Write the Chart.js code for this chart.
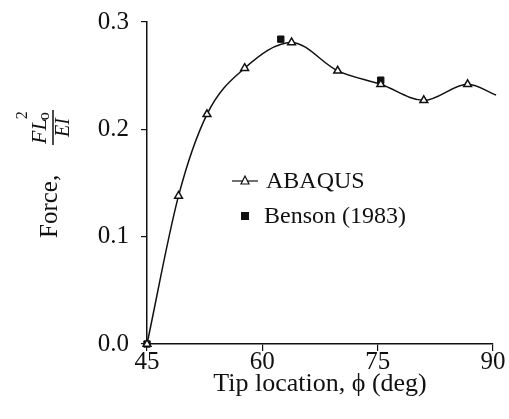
<!DOCTYPE html>
<html>
<head>
<meta charset="utf-8">
<script src="https://cdn.jsdelivr.net/npm/chart.js@4"></script>
<style>
  html, body { margin: 0; padding: 0; background: #fff; }
  #wrap { width: 509px; height: 419px; }
</style>
</head>
<body>
<div id="wrap"><canvas id="chart" width="509" height="419"></canvas></div>
<script>
// ABAQUS results (tip location in deg, force FL^2/EI)
const abaqusPhi   = [45, 49.1, 52.8, 57.7, 63.8, 69.8, 75.4, 81.0, 86.7, 90.4];
const abaqusForce = [0, 0.138, 0.214, 0.257, 0.281, 0.2545, 0.242, 0.227, 0.242, 0.232];
// Benson (1983)
const bensonPhi   = [45, 62.4, 75.4];
const bensonForce = [0, 0.284, 0.2458];
// tick values
const xTicks = [45, 60, 75, 90];
const yTicks = [0.0, 0.1, 0.2, 0.3];

const SERIF = "'Liberation Serif', 'Times New Roman', Times, serif";
const INK = '#111';

function toPoints(xs, ys) {
    return xs.map((x, i) => ({ x: x, y: ys[i] }));
}

// Titre de l'axe Y : "Force, FLo²/EI" en rotation
const yTitlePlugin = {
    id: 'yTitle',
    afterDraw(chart) {
        const ctx = chart.ctx;
        ctx.save();
        ctx.translate(57, 238);
        ctx.rotate(-Math.PI / 2);
        ctx.fillStyle = INK;
        ctx.strokeStyle = INK;
        ctx.textBaseline = 'alphabetic';
        ctx.textAlign = 'left';
        ctx.font = '25px ' + SERIF;
        ctx.fillText('Force,', 0, 0);

        // fraction
        const u0 = 93, u1 = 128;
        ctx.lineWidth = 1.5;
        ctx.beginPath();
        ctx.moveTo(u0, -4);
        ctx.lineTo(u1, -4);
        ctx.stroke();

        ctx.font = 'italic 22px ' + SERIF;
        ctx.fillText('FL', u0 + 1, -11);
        const wFL = ctx.measureText('FL').width;
        ctx.font = '16px ' + SERIF;
        ctx.fillText('o', u0 + 1 + wFL - 2, -8);
        ctx.fillText('2', u0 + 1 + wFL - 1, -30);

        ctx.font = 'italic 20px ' + SERIF;
        ctx.textAlign = 'center';
        ctx.fillText('EI', (u0 + u1) / 2, 12);
        ctx.restore();
    }
};

// Légende dessinée à l'intérieur du graphique
const legendPlugin = {
    id: 'innerLegend',
    afterDraw(chart) {
        const ctx = chart.ctx;
        ctx.save();
        ctx.fillStyle = INK;
        ctx.strokeStyle = INK;
        ctx.font = '24px ' + SERIF;
        ctx.textBaseline = 'middle';
        ctx.textAlign = 'left';

        // ABAQUS : ligne + triangle
        const y1 = 181;
        ctx.lineWidth = 1.2;
        ctx.beginPath();
        ctx.moveTo(232, y1);
        ctx.lineTo(258, y1);
        ctx.stroke();
        ctx.beginPath();
        ctx.moveTo(245, y1 - 5);
        ctx.lineTo(249, y1 + 3);
        ctx.lineTo(241, y1 + 3);
        ctx.closePath();
        ctx.fillStyle = '#fff';
        ctx.fill();
        ctx.stroke();
        ctx.fillStyle = INK;
        ctx.fillText('ABAQUS', 266, y1 + 1);

        // Benson : carré plein
        const y2 = 216;
        ctx.fillRect(241, y2 - 4, 8, 8);
        ctx.fillText('Benson (1983)', 264, y2 + 1);
        ctx.restore();
    }
};

const config = {
    type: 'line',
    data: {
        datasets: [
            {
                label: 'ABAQUS',
                data: toPoints(abaqusPhi, abaqusForce),
                borderColor: INK,
                borderWidth: 1.5,
                cubicInterpolationMode: 'monotone',
                fill: false,
                clip: false,
                pointStyle: 'triangle',
                pointRadius: (c) => (c.dataIndex === abaqusPhi.length - 1 ? 0 : 4.5),
                pointBackgroundColor: '#fff',
                pointBorderColor: INK,
                pointBorderWidth: 1.5
            },
            {
                label: 'Benson (1983)',
                data: toPoints(bensonPhi, bensonForce),
                showLine: false,
                clip: false,
                pointStyle: 'rect',
                pointRadius: 4.5,
                pointBackgroundColor: INK,
                pointBorderColor: INK,
                pointBorderWidth: 1
            }
        ]
    },
    options: {
        responsive: false,
        animation: false,
        layout: { padding: { left: 0, right: 16, top: 22, bottom: 0 } },
        plugins: {
            legend: { display: false },
            tooltip: { enabled: false }
        },
        scales: {
            x: {
                type: 'linear',
                min: 45,
                max: 90,
                afterBuildTicks: (s) => { s.ticks = xTicks.map(v => ({ value: v })); },
                afterFit: (s) => { s.height = 75; s.paddingLeft = 0; s.paddingRight = 0; },
                grid: { drawOnChartArea: false, drawTicks: true, tickLength: 7, color: INK, lineWidth: 1.2 },
                border: { display: true, color: INK, width: 1.5 },
                ticks: {
                    color: INK,
                    padding: -4,
                    maxRotation: 0,
                    font: { family: SERIF, size: 25 },
                    callback: (v) => String(v)
                },
                title: {
                    display: true,
                    text: 'Tip location, \u03d5 (deg)',
                    color: INK,
                    font: { family: SERIF, size: 26 },
                    padding: { top: 0, bottom: 19 }
                }
            },
            y: {
                min: 0,
                max: 0.3,
                afterBuildTicks: (s) => { s.ticks = yTicks.map(v => ({ value: v })); },
                afterFit: (s) => { s.width = 147; s.paddingTop = 0; s.paddingBottom = 0; },
                grid: { drawOnChartArea: false, drawTicks: true, tickLength: 6, color: INK, lineWidth: 1.2 },
                border: { display: true, color: INK, width: 1.5 },
                ticks: {
                    color: INK,
                    padding: 12,
                    font: { family: SERIF, size: 25 },
                    callback: (v) => Number(v).toFixed(1)
                }
            }
        }
    },
    plugins: [yTitlePlugin, legendPlugin]
};

function draw() {
    new Chart(document.getElementById('chart').getContext('2d'), config);
}

// attendre la police avant de dessiner
if (document.fonts && document.fonts.load) {
    Promise.all([
        document.fonts.load("24px 'Liberation Serif'"),
        document.fonts.load("italic 24px 'Liberation Serif'")
    ]).then(draw, draw);
} else {
    draw();
}
</script>
</body>
</html>
